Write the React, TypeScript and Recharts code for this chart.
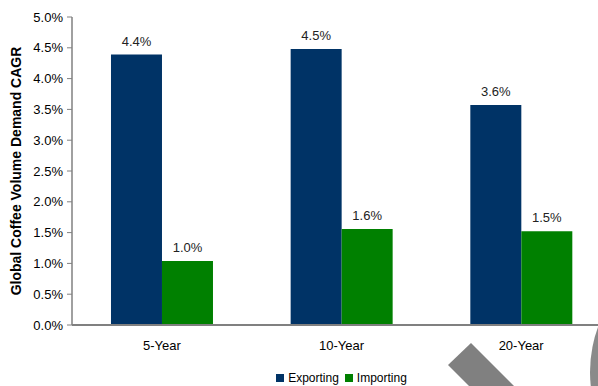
import React from "react";
import { BarChart, Bar, XAxis, YAxis, Legend, LabelList } from "recharts";

const categories = ["5-Year", "10-Year", "20-Year"];
const exporting = [4.39, 4.48, 3.57];
const importing = [1.04, 1.56, 1.52];
const yTicks = [0, 0.5, 1, 1.5, 2, 2.5, 3, 3.5, 4, 4.5, 5];

const data = categories.map((c, i) => ({
  name: c,
  Exporting: exporting[i],
  Importing: importing[i],
}));

const FONT = "'Liberation Sans', Arial, sans-serif";
const NAVY = "#003366";
const GREEN = "#008000";

const fmt = (v: number) => `${Number(v).toFixed(1)}%`;

const LegendContent = () => (
  <div
    style={{
      display: "flex",
      justifyContent: "center",
      alignItems: "center",
      fontFamily: FONT,
      fontSize: 12,
      color: "#000",
      lineHeight: "14px",
    }}
  >
    <span style={{ display: "inline-block", width: 8, height: 8, background: NAVY, marginRight: 4 }} />
    <span style={{ marginRight: 6 }}>Exporting</span>
    <span style={{ display: "inline-block", width: 8, height: 8, background: GREEN, marginRight: 4 }} />
    <span>Importing</span>
  </div>
);

export default function App() {
  return (
    <div style={{ position: "fixed", left: 0, top: 0, width: 598, height: 386, overflow: "hidden", background: "#fff" }}>
      <BarChart
        width={620}
        height={386}
        data={data}
        margin={{ top: 17, right: 9, left: 0, bottom: 5 }}
        barCategoryGap="21.7%"
        barGap={0}
      >
        <YAxis
          width={72}
          domain={[0, 5]}
          ticks={yTicks}
          tickFormatter={fmt}
          interval={0}
          tick={{ fontFamily: FONT, fontSize: 13, fill: "#000" }}
          tickSize={5}
          tickMargin={4}
          axisLine={{ stroke: "#808080", strokeWidth: 1.5 }}
          tickLine={{ stroke: "#808080" }}
          label={{
            value: "Global Coffee Volume Demand CAGR",
            angle: -90,
            position: "insideLeft",
            offset: 16,
            style: { textAnchor: "middle", fontFamily: FONT, fontSize: 14, fontWeight: "bold", fill: "#000" },
          }}
        />
        <XAxis
          dataKey="name"
          height={34}
          tickLine={false}
          axisLine={{ stroke: "#808080", strokeWidth: 2 }}
          tick={{ fontFamily: FONT, fontSize: 13, fill: "#000" }}
          tickMargin={10}
        />
        <Legend
          verticalAlign="bottom"
          height={22}
          content={<LegendContent />}
          wrapperStyle={{ top: 371, left: 72, width: 539 }}
        />
        <Bar dataKey="Exporting" fill={NAVY} isAnimationActive={false}>
          <LabelList
            dataKey="Exporting"
            position="top"
            offset={9}
            formatter={fmt}
            style={{ fontFamily: FONT, fontSize: 13, fill: "#222" }}
          />
        </Bar>
        <Bar dataKey="Importing" fill={GREEN} isAnimationActive={false}>
          <LabelList
            dataKey="Importing"
            position="top"
            offset={9}
            formatter={fmt}
            style={{ fontFamily: FONT, fontSize: 13, fill: "#222" }}
          />
        </Bar>
      </BarChart>
      <svg
        width={598}
        height={386}
        style={{ position: "absolute", left: 0, top: 0, pointerEvents: "none" }}
      >
        <polygon points="471,343 448,365 469,386 514,386" fill="#808080" />
        <circle cx={720} cy={372} r={130} fill="#8a8a8a" />
      </svg>
    </div>
  );
}
